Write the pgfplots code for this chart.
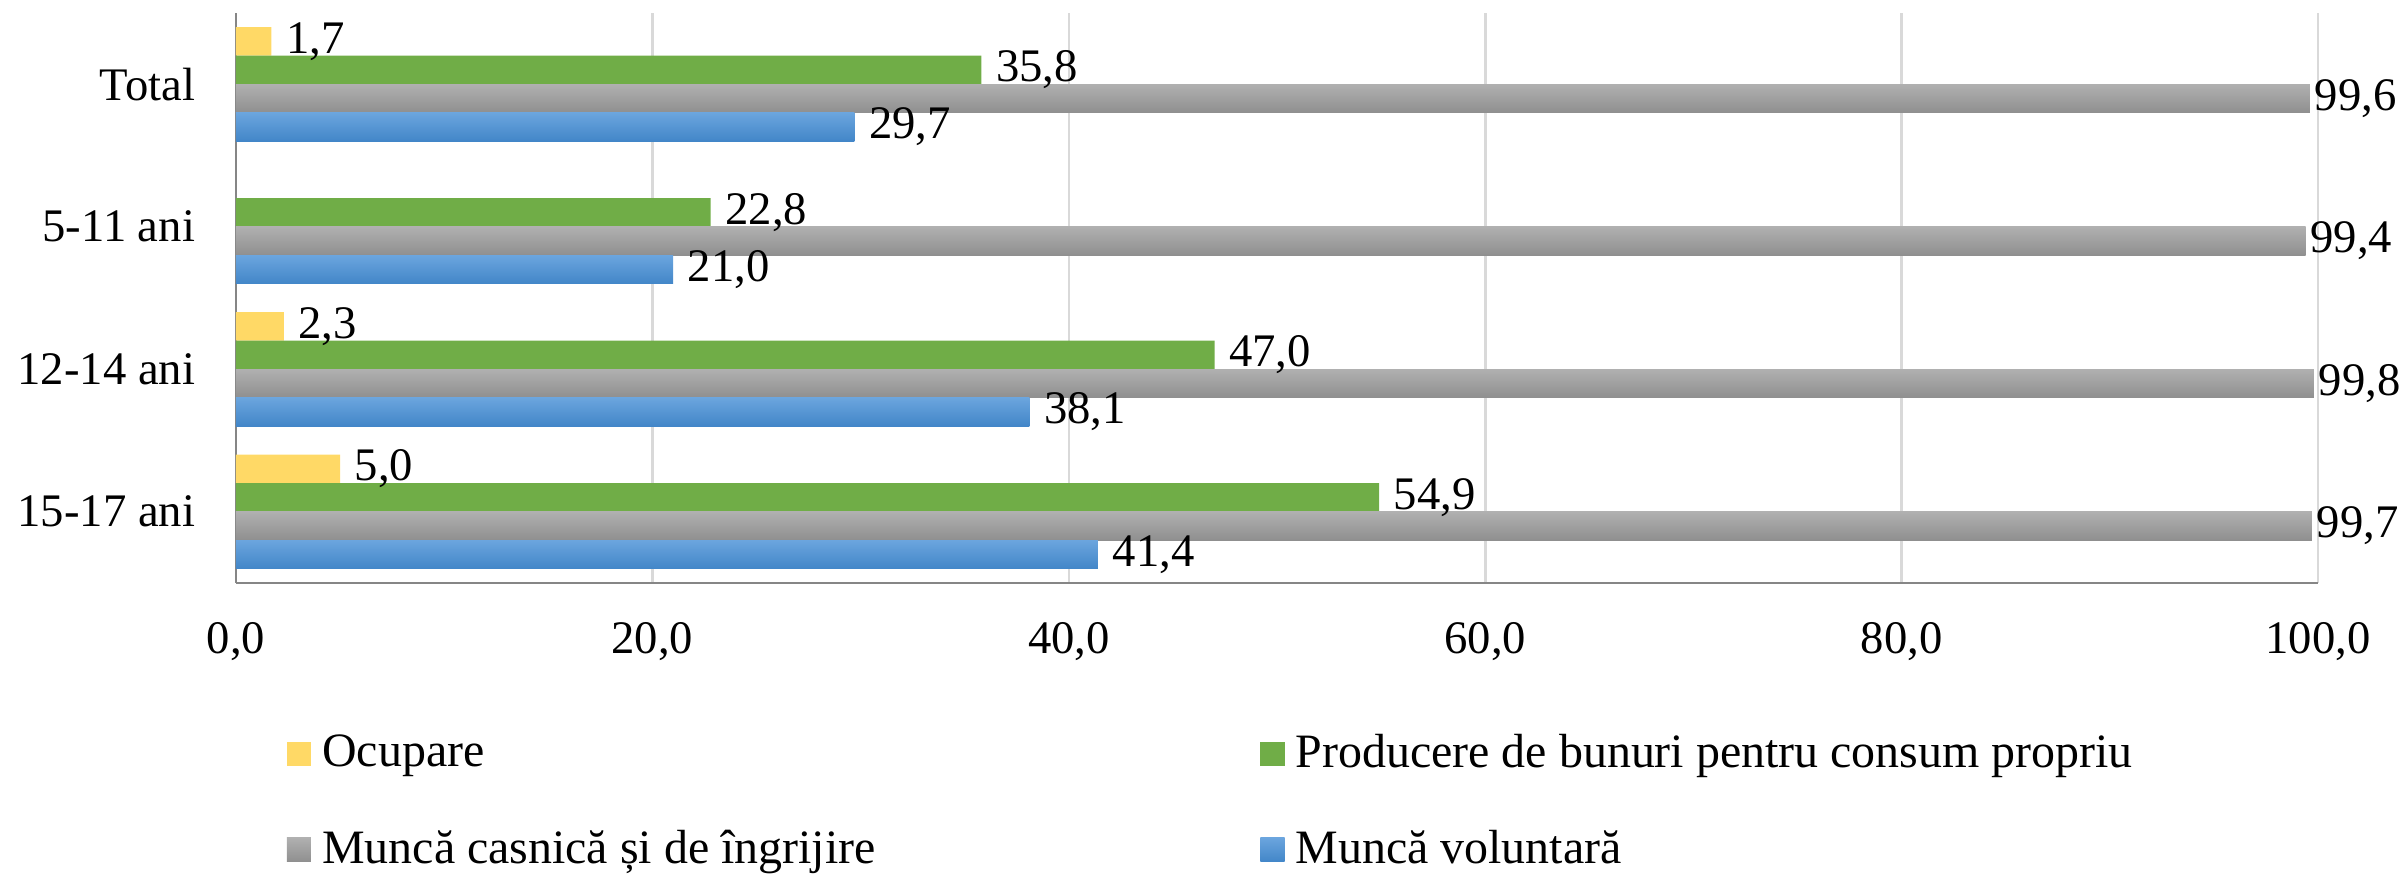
\documentclass[border=0pt]{standalone}
\usepackage{pgfplots}
\pgfplotsset{compat=1.18}
\usepackage{fontspec}
\setmainfont{Liberation Serif}
\definecolor{cYel}{HTML}{FFD966}
\definecolor{cGrn}{HTML}{70AD47}
\definecolor{cGrayT}{HTML}{B0B0B0}
\definecolor{cGrayB}{HTML}{8F8F8F}
\definecolor{cBlueT}{HTML}{6BA5DE}
\definecolor{cBlueB}{HTML}{4286C8}
\definecolor{cGrid}{HTML}{D9D9D9}
\definecolor{cAxis}{HTML}{868686}
\pgfplotsset{
  grayb/.style={top color=cGrayT, bottom color=cGrayB, draw=none, bar shift=-0.1,
    nodes near coords style={inner xsep=1pt}},
  blueb/.style={top color=cBlueT, bottom color=cBlueB, draw=none, bar shift=-0.3},
}
\begin{document}
\begin{tikzpicture}[font=\fontsize{11.2pt}{13.4pt}\selectfont]
\path[use as bounding box] (-56.64pt,-70.8pt) rectangle (520.32pt,139.92pt);
\begin{axis}[
  at={(0pt,0pt)}, anchor=south west,
  scale only axis, width=499.7pt, height=136.8pt,
  xbar, bar width=0.2,
  xmin=0, xmax=100, ymin=-0.5, ymax=3.5,
  xtick={0,20,40,60,80,100},
  ytick={0,1,2,3},
  yticklabels={15-17 ani,12-14 ani,5-11 ani,Total},
  /pgf/number format/assume math mode=true,
  xticklabel style={/pgf/number format/.cd,fixed,fixed zerofill,precision=1,use comma},
  xticklabel shift=6pt,
  yticklabel shift=6.3pt,
  major tick length=0pt,
  axis x line*=bottom, axis y line*=left,
  axis line style={-, draw=cAxis, line width=0.6pt},
  xmajorgrids, grid style={cGrid, line width=0.6pt},
  point meta=x,
  nodes near coords={\pgfmathprintnumber[fixed,fixed zerofill,precision=1,use comma]{\pgfplotspointmeta}},
  nodes near coords style={anchor=west, font=\fontsize{11.2pt}{13.4pt}\selectfont, text=black},
  legend columns=2,
  legend image code/.code={\path[#1, draw=none] (0pt,-2.9pt) rectangle (5.8pt,2.9pt);},
  legend style={draw=none, fill=none, inner sep=0pt, outer sep=0pt,
    at={(0,0)}, anchor=north west, xshift=12.2pt, yshift=-34.2pt,
    row sep=9.6pt,
    /tikz/every even column/.append style={column sep=89.6pt},
    nodes={inner xsep=2.7pt},
    font=\fontsize{11.5pt}{13.6pt}\selectfont},
  legend cell align=left,
]
\addplot[fill=cYel, draw=none, bar shift=0.3] coordinates {(1.7,3) (2.3,1) (5.0,0)};
\addlegendentry{Ocupare}
\addplot[fill=cGrn, draw=none, bar shift=0.1] coordinates {(35.8,3) (22.8,2) (47.0,1) (54.9,0)};
\addlegendentry{Producere de bunuri pentru consum propriu}
\addplot[grayb] coordinates {(99.6,3)};
\addlegendentry{Muncă casnică și de îngrijire}
\addplot[grayb, forget plot] coordinates {(99.4,2)};
\addplot[grayb, forget plot] coordinates {(99.8,1)};
\addplot[grayb, forget plot] coordinates {(99.7,0)};
\addplot[blueb] coordinates {(29.7,3)};
\addlegendentry{Muncă voluntară}
\addplot[blueb, forget plot] coordinates {(21.0,2)};
\addplot[blueb, forget plot] coordinates {(38.1,1)};
\addplot[blueb, forget plot] coordinates {(41.4,0)};
\end{axis}
\end{tikzpicture}
\end{document}
